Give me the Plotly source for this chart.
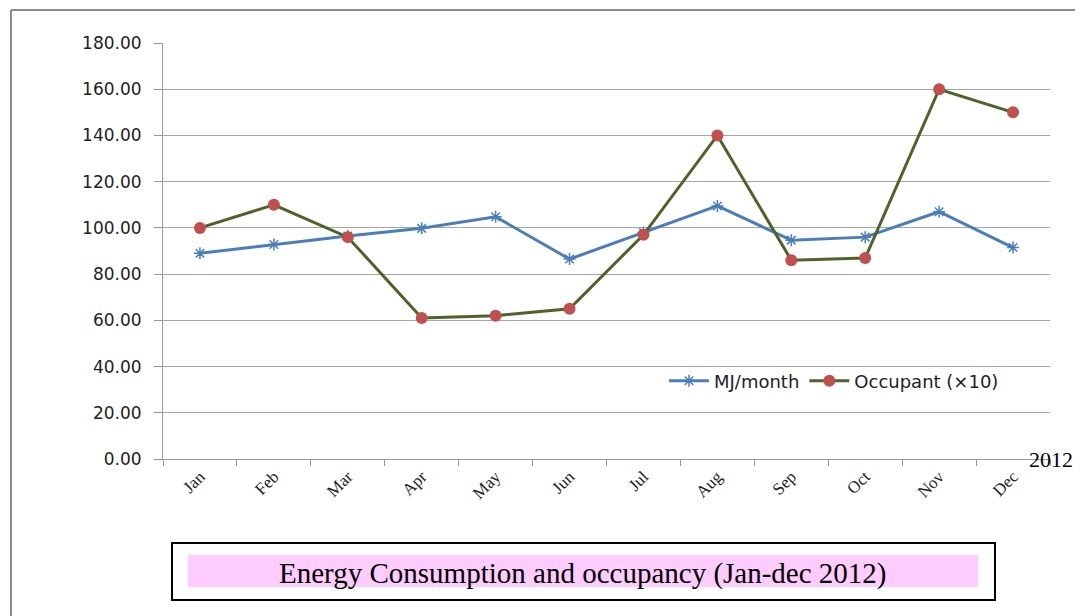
import plotly.graph_objects as go

months = ["Jan", "Feb", "Mar", "Apr", "May", "Jun", "Jul", "Aug", "Sep", "Oct", "Nov", "Dec"]
mj_month = [89.0, 92.8, 96.5, 99.8, 104.8, 86.5, 98.0, 109.5, 94.7, 96.0, 107.0, 91.5]
occupant_x10 = [100, 110, 96, 61, 62, 65, 97, 140, 86, 87, 160, 150]
y_ticks = [0, 20, 40, 60, 80, 100, 120, 140, 160, 180]

OFF = 8  # default page body margin
W, H = 1083 - OFF, 616 - OFF
L, R, T, B = 163 - OFF, 1050 - OFF, 43 - OFF, 459 - OFF

def px(x):
    return (x - OFF - L) / (R - L)

def py(y):
    return (B - (y - OFF)) / (B - T)

fig = go.Figure()
fig.add_trace(go.Scatter(
    x=months, y=mj_month, name="MJ/month", mode="lines+markers",
    line=dict(color="#4A7EBB", width=3),
    marker=dict(symbol="asterisk", size=10, color="#4A7EBB", line=dict(color="#4A7EBB", width=1.5)),
))
fig.add_trace(go.Scatter(
    x=months, y=occupant_x10, name="Occupant (×10)", mode="lines+markers",
    line=dict(color="#4F6228", width=3),
    marker=dict(symbol="circle", size=12, color="#C0504D"),
))

fig.update_layout(
    width=W, height=H,
    margin=dict(l=L, r=W - R, t=T, b=H - B),
    paper_bgcolor="white", plot_bgcolor="white",
    showlegend=True,
    legend=dict(orientation="h", x=px(664), y=py(381), xanchor="left", yanchor="middle",
                font=dict(family="DejaVu Sans", size=18, color="#222"),
                bgcolor="rgba(0,0,0,0)", itemwidth=40, tracegroupgap=0),
    xaxis=dict(
        type="category", categoryorder="array", categoryarray=months,
        range=[-0.5, 11.5],
        showline=True, linecolor="#9A9A9A", linewidth=1,
        ticks="outside", tickson="boundaries", ticklen=6, tickcolor="#9A9A9A",
        tickangle=-45, tickfont=dict(family="Liberation Serif", size=17, color="#222"),
        showgrid=False, zeroline=False,
    ),
    yaxis=dict(
        range=[0, 180], tickvals=y_ticks, ticktext=[f"{v:.2f}" for v in y_ticks],
        showline=True, linecolor="#9A9A9A", linewidth=1,
        ticks="outside", ticklen=8, tickcolor="#9A9A9A", ticklabelstandoff=9,
        showgrid=True, gridcolor="#A6A6A6", gridwidth=1, zeroline=False,
        tickfont=dict(family="DejaVu Sans", size=17, color="#222"),
    ),
)

shapes = [
    # outer border (left and top)
    dict(type="line", xref="paper", yref="paper", x0=px(11), x1=px(11), y0=py(10), y1=py(616),
         line=dict(color="#8C8C8C", width=2)),
    dict(type="line", xref="paper", yref="paper", x0=px(11), x1=px(1083), y0=py(10), y1=py(10),
         line=dict(color="#8C8C8C", width=2)),
    # caption box
    dict(type="rect", xref="paper", yref="paper", x0=px(172), x1=px(995), y0=py(543), y1=py(600),
         line=dict(color="black", width=2), fillcolor="white", layer="below"),
    dict(type="rect", xref="paper", yref="paper", x0=px(188), x1=px(978), y0=py(555), y1=py(587),
         line=dict(width=0), fillcolor="#FFCCFF", layer="below"),
]
fig.update_layout(shapes=shapes)

fig.add_annotation(x=px(583), y=py(573), xref="paper", yref="paper",
                   text="Energy Consumption and occupancy (Jan-dec 2012)", showarrow=False,
                   xanchor="center", yanchor="middle",
                   font=dict(family="Liberation Serif", size=29, color="black"))
fig.add_annotation(x=px(1051), y=py(459), xref="paper", yref="paper",
                   text="2012", showarrow=False, xanchor="center", yanchor="middle",
                   font=dict(family="Liberation Serif", size=22, color="black"))

fig.write_html("out.html")
